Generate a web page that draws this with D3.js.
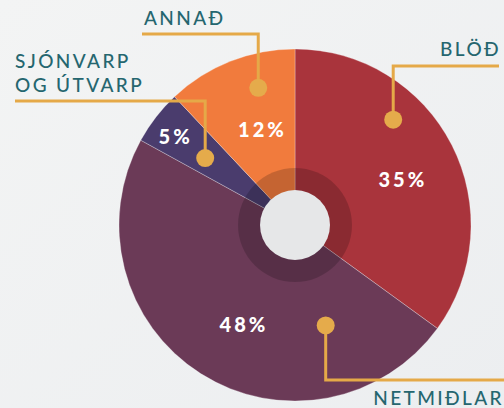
<!DOCTYPE html>
<html>
<head>
<meta charset="utf-8">
<script src="https://cdn.jsdelivr.net/npm/d3@7"></script>
<style>
  html, body { margin: 0; padding: 0; }
  body { width: 504px; height: 408px; overflow: hidden; }
  .pct { font-family: Lato, sans-serif; font-weight: 900; font-size: 20px; fill: #fff; letter-spacing: 3px; }
  .name { font-family: Lato, sans-serif; font-weight: 500; font-size: 19px; fill: #25666f; letter-spacing: 2.4px; }
</style>
</head>
<body>
<div id="chart"></div>
<script>
const categories = ["BLÖÐ", "NETMIÐLAR", "SJÓNVARP\nOG ÚTVARP", "ANNAÐ"];
const shares = [35, 48, 5, 12];
const colors = ["#a9343c", "#6b3a57", "#4a3c6d", "#f17b3d"];

// hand placed label layout (angle in degrees from north, radius in px)
const pctRadius = [115, 113, 150, 101];
const pctAngle = [67, 208, 306, 340];
const dotRadius = [144, 105, 112, 142];
const dotAngle = [43, 163, 306.7, 345];
const elbowY = [66, 380, 101, 34];
const lineEndX = [499, 504, 15, 142];

const width = 504, height = 408;
const cx = 295, cy = 225, radius = 176;

const svg = d3.select('#chart')
  .append('svg')
    .attr('width', width)
    .attr('height', height);

const grad = svg.append('defs').append('linearGradient')
    .attr('id', 'bg')
    .attr('x1', 0).attr('y1', 0).attr('x2', 1).attr('y2', 1);
grad.append('stop').attr('offset', 0).attr('stop-color', '#f3f4f4');
grad.append('stop').attr('offset', 1).attr('stop-color', '#eceef0');

svg.append('rect')
    .attr('width', width)
    .attr('height', height)
    .attr('fill', 'url(#bg)');

const data = categories.map((c, i) => ({ name: c, value: shares[i], color: colors[i], i: i }));

const pie = d3.pie().value(d => d.value).sort(null);
const arcs = pie(data);
const arc = d3.arc().innerRadius(0).outerRadius(radius);

const g = svg.append('g').attr('transform', `translate(${cx},${cy})`);

g.selectAll('path.slice')
  .data(arcs)
  .join('path')
    .attr('class', 'slice')
    .attr('d', arc)
    .attr('fill', d => d.data.color)
    .attr('stroke', 'rgba(255,255,255,0.35)')
    .attr('stroke-width', 0.8);

// darker ring + hole in the middle
g.append('circle')
    .attr('r', 57)
    .attr('fill', '#000')
    .attr('fill-opacity', 0.18);
g.append('circle')
    .attr('r', 35)
    .attr('fill', '#e6e7e8');

const polar = (r, deg) => {
  const a = deg * Math.PI / 180;
  return [r * Math.sin(a), -r * Math.cos(a)];
};

g.selectAll('text.pct')
  .data(arcs)
  .join('text')
    .attr('class', 'pct')
    .attr('text-anchor', 'middle')
    .attr('x', d => polar(pctRadius[d.index], pctAngle[d.index])[0] + 2)
    .attr('y', d => polar(pctRadius[d.index], pctAngle[d.index])[1] + 7)
    .text(d => d.data.value + '%');

// leader lines
const callouts = svg.append('g');
callouts.selectAll('path')
  .data(arcs)
  .join('path')
    .attr('fill', 'none')
    .attr('stroke', '#e5a948')
    .attr('stroke-width', 3)
    .attr('d', d => {
      const p = polar(dotRadius[d.index], dotAngle[d.index]);
      const x = cx + p[0], y = cy + p[1];
      return `M${x},${y}V${elbowY[d.index]}H${lineEndX[d.index]}`;
    });

callouts.selectAll('circle')
  .data(arcs)
  .join('circle')
    .attr('r', 9)
    .attr('fill', '#e5ab4b')
    .attr('cx', d => cx + polar(dotRadius[d.index], dotAngle[d.index])[0])
    .attr('cy', d => cy + polar(dotRadius[d.index], dotAngle[d.index])[1]);

// category names
const nameX = [501, 504, 15, 144];
const nameY = [56, 405, 68, 25];
const nameAnchor = ['end', 'end', 'start', 'start'];

const names = callouts.selectAll('text.name')
  .data(arcs)
  .join('text')
    .attr('class', 'name')
    .attr('text-anchor', d => nameAnchor[d.index])
    .attr('x', d => nameX[d.index])
    .attr('y', d => nameY[d.index]);

names.selectAll('tspan')
  .data(d => d.data.name.split('\n').map(t => ({ t, i: d.index })))
  .join('tspan')
    .attr('x', d => nameX[d.i])
    .attr('dy', (d, j) => j ? 24 : 0)
    .text(d => d.t);
</script>
</body>
</html>
